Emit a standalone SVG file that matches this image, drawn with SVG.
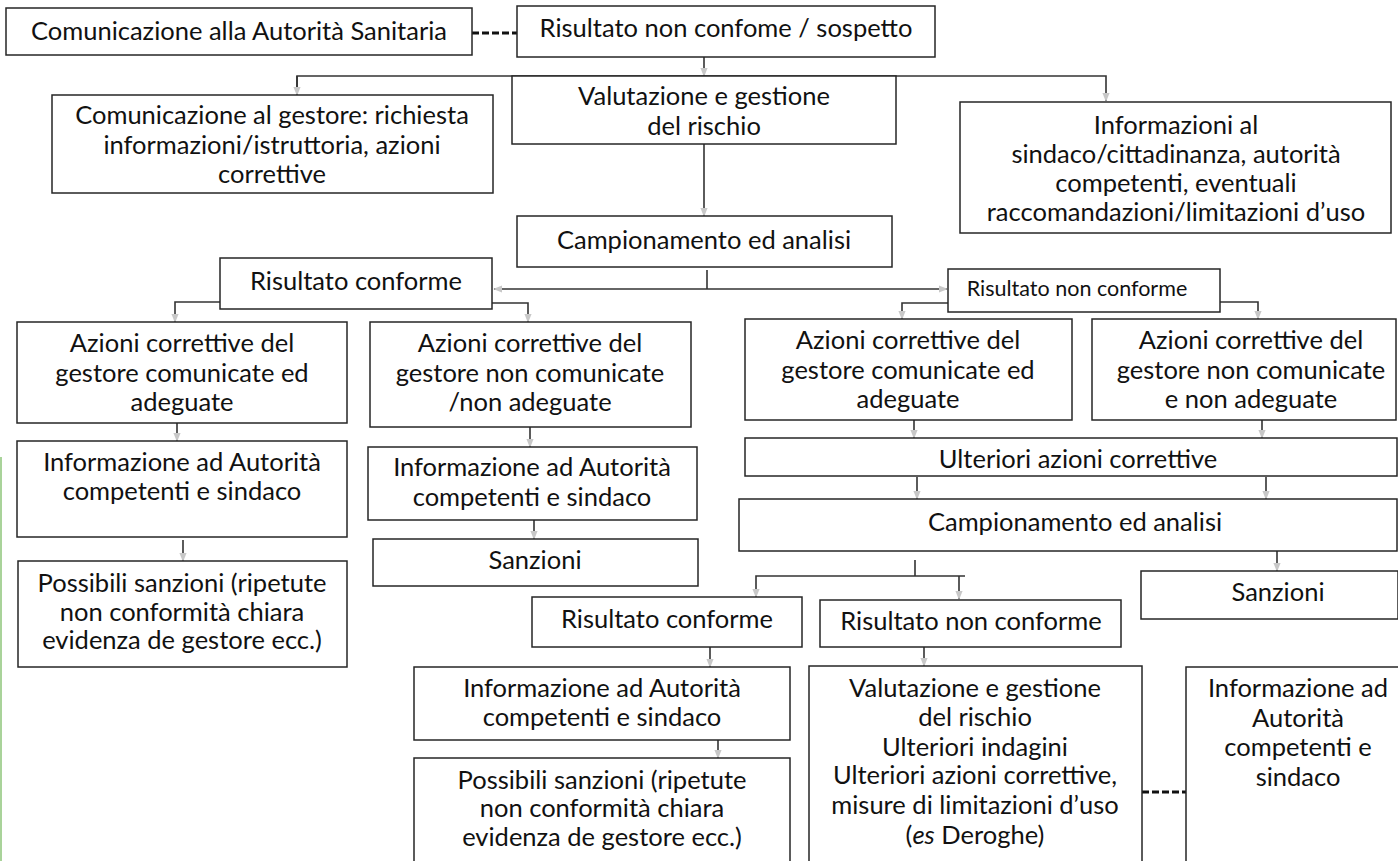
<svg xmlns="http://www.w3.org/2000/svg" width="1398" height="861" viewBox="0 0 1398 861">
<style>
.b{fill:#fff;stroke:#262626;stroke-width:1.5}
.t{font-family:Lato,"Liberation Sans",sans-serif;font-size:25.5px;fill:#111;text-anchor:middle}
.s{font-size:21.5px}
.c{fill:none;stroke:#333;stroke-width:1.6}
.d{fill:none;stroke:#111;stroke-width:2.8;stroke-dasharray:7 3}
</style>
<defs>
<marker id="a" viewBox="0 0 10 10" refX="9" refY="5" markerWidth="9" markerHeight="9" orient="auto" markerUnits="userSpaceOnUse">
<path d="M0,1 L10,5 L0,9 z" fill="#c8c8c8"/>
</marker>
</defs>
<rect width="1398" height="861" fill="#fff"/>
<line x1="1" y1="457" x2="1" y2="861" stroke="#a9d39a" stroke-width="2"/>
<g id="connectors">
<path class="d" d="M472,33 H517"/>
<path class="d" d="M1142,792 H1186"/>
<path class="c" d="M704,57 V76" marker-end="url(#a)"/>
<path class="c" d="M297,95 V76 H1106 V101" marker-end="url(#a)"/>
<path class="c" d="M297,76 V95" marker-end="url(#a)"/>
<path class="c" d="M704,144 V216" stroke-width="2.2" stroke="#111" marker-end="url(#a)"/>
<path class="c" d="M707,270 V289"/>
<path class="c" d="M707,289 H494" marker-end="url(#a)"/>
<path class="c" d="M707,289 H947" marker-end="url(#a)"/>
<path class="c" d="M220,302 H175 V322" marker-end="url(#a)"/>
<path class="c" d="M492,303 H528 V322" marker-end="url(#a)"/>
<path class="c" d="M948,303 H902 V319" marker-end="url(#a)"/>
<path class="c" d="M1220,302 H1258 V319" marker-end="url(#a)"/>
<path class="c" d="M177,423 V441" marker-end="url(#a)"/>
<path class="c" d="M183,540 V561" marker-end="url(#a)"/>
<path class="c" d="M530,427 V447" marker-end="url(#a)"/>
<path class="c" d="M534,520 V539" marker-end="url(#a)"/>
<path class="c" d="M914,420 V438" marker-end="url(#a)"/>
<path class="c" d="M1262,420 V438" marker-end="url(#a)"/>
<path class="c" d="M917,477 V499" marker-end="url(#a)"/>
<path class="c" d="M1266,477 V499" marker-end="url(#a)"/>
<path class="c" d="M915,560 V576"/>
<path class="c" d="M965,576 H756 V597" marker-end="url(#a)"/>
<path class="c" d="M959,576 V599" marker-end="url(#a)"/>
<path class="c" d="M1277,551 V571" marker-end="url(#a)"/>
<path class="c" d="M710,647 V667" marker-end="url(#a)"/>
<path class="c" d="M718,740 V758" marker-end="url(#a)"/>
<path class="c" d="M924,647 V666" marker-end="url(#a)"/>
</g>
<g id="n1"><rect class="b" x="6" y="8" width="466" height="47"/><text class="t" x="239" y="40">Comunicazione alla Autorità Sanitaria</text></g>
<g id="n2"><rect class="b" x="517" y="6" width="418" height="51"/><text class="t" x="726" y="37">Risultato non confome / sospetto</text></g>
<g id="n3"><rect class="b" x="52" y="95" width="441" height="98"/><text class="t"><tspan x="272" y="124">Comunicazione al gestore: richiesta</tspan><tspan x="272" y="154">informazioni/istruttoria, azioni</tspan><tspan x="272" y="183">correttive</tspan></text></g>
<g id="n4"><rect class="b" x="512" y="76" width="384" height="68"/><text class="t"><tspan x="704" y="105">Valutazione e gestione</tspan><tspan x="704" y="135">del rischio</tspan></text></g>
<g id="n5"><rect class="b" x="960" y="102" width="431" height="131"/><text class="t"><tspan x="1176" y="134">Informazioni al</tspan><tspan x="1176" y="163">sindaco/cittadinanza, autorità</tspan><tspan x="1176" y="192">competenti, eventuali</tspan><tspan x="1176" y="221">raccomandazioni/limitazioni d’uso</tspan></text></g>
<g id="n6"><rect class="b" x="517" y="216" width="375" height="51"/><text class="t" x="704" y="249">Campionamento ed analisi</text></g>
<g id="n7"><rect class="b" x="220" y="258" width="272" height="51"/><text class="t" x="356" y="290">Risultato conforme</text></g>
<g id="n8"><rect class="b" x="948" y="269" width="272" height="43"/><text class="t s" x="1077" y="296">Risultato non conforme</text></g>
<g id="n9"><rect class="b" x="17" y="322" width="330" height="101"/><text class="t"><tspan x="182" y="352">Azioni correttive del</tspan><tspan x="182" y="382">gestore comunicate ed</tspan><tspan x="182" y="411">adeguate</tspan></text></g>
<g id="n10"><rect class="b" x="370" y="322" width="321" height="105"/><text class="t"><tspan x="530" y="352">Azioni correttive del</tspan><tspan x="530" y="382">gestore non comunicate</tspan><tspan x="530" y="411">/non adeguate</tspan></text></g>
<g id="n11"><rect class="b" x="17" y="441" width="330" height="96"/><text class="t"><tspan x="182" y="471">Informazione ad Autorità</tspan><tspan x="182" y="500">competenti e sindaco</tspan></text></g>
<g id="n12"><rect class="b" x="368" y="447" width="329" height="73"/><text class="t"><tspan x="532" y="476">Informazione ad Autorità</tspan><tspan x="532" y="506">competenti e sindaco</tspan></text></g>
<g id="n13"><rect class="b" x="373" y="539" width="325" height="47"/><text class="t" x="535" y="569">Sanzioni</text></g>
<g id="n14"><rect class="b" x="18" y="561" width="329" height="106"/><text class="t"><tspan x="182" y="592">Possibili sanzioni (ripetute</tspan><tspan x="182" y="621">non conformità chiara</tspan><tspan x="182" y="649">evidenza de gestore ecc.)</tspan></text></g>
<g id="n15"><rect class="b" x="745" y="319" width="327" height="101"/><text class="t"><tspan x="908" y="349">Azioni correttive del</tspan><tspan x="908" y="379">gestore comunicate ed</tspan><tspan x="908" y="408">adeguate</tspan></text></g>
<g id="n16"><rect class="b" x="1092" y="319" width="304" height="101"/><text class="t"><tspan x="1251" y="349">Azioni correttive del</tspan><tspan x="1251" y="379">gestore non comunicate</tspan><tspan x="1251" y="408">e non adeguate</tspan></text></g>
<g id="n17"><rect class="b" x="745" y="438" width="652" height="38"/><text class="t" x="1078" y="468">Ulteriori azioni correttive</text></g>
<g id="n18"><rect class="b" x="739" y="499" width="658" height="52"/><text class="t" x="1075" y="531">Campionamento ed analisi</text></g>
<g id="n19"><rect class="b" x="1141" y="571" width="257" height="48"/><text class="t" x="1278" y="601">Sanzioni</text></g>
<g id="n20"><rect class="b" x="532" y="597" width="270" height="50"/><text class="t" x="667" y="628">Risultato conforme</text></g>
<g id="n21"><rect class="b" x="820" y="600" width="301" height="47"/><text class="t" x="971" y="630">Risultato non conforme</text></g>
<g id="n22"><rect class="b" x="414" y="667" width="376" height="73"/><text class="t"><tspan x="602" y="697">Informazione ad Autorità</tspan><tspan x="602" y="726">competenti e sindaco</tspan></text></g>
<g id="n23"><rect class="b" x="414" y="758" width="376" height="106"/><text class="t"><tspan x="602" y="789">Possibili sanzioni (ripetute</tspan><tspan x="602" y="817">non conformità chiara</tspan><tspan x="602" y="846">evidenza de gestore ecc.)</tspan></text></g>
<g id="n24"><rect class="b" x="809" y="666" width="333" height="198"/><text class="t"><tspan x="975" y="697">Valutazione e gestione</tspan><tspan x="975" y="726">del rischio</tspan><tspan x="975" y="756">Ulteriori indagini</tspan><tspan x="975" y="784">Ulteriori azioni correttive,</tspan><tspan x="975" y="814">misure di limitazioni d’uso</tspan><tspan x="975" y="844">(<tspan font-style="italic">es</tspan> Deroghe)</tspan></text></g>
<g id="n25"><rect class="b" x="1186" y="667" width="214" height="197"/><text class="t"><tspan x="1298" y="697">Informazione ad</tspan><tspan x="1298" y="727">Autorità</tspan><tspan x="1298" y="756">competenti e</tspan><tspan x="1298" y="786">sindaco</tspan></text></g>
</svg>
